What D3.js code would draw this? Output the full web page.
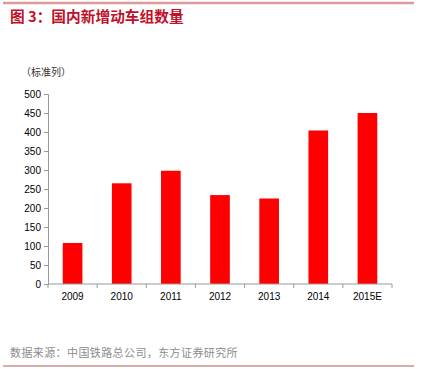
<!DOCTYPE html>
<html><head><meta charset="utf-8">
<script src="https://cdn.jsdelivr.net/npm/d3@7"></script>
<style>body{margin:0;background:#fff}svg{display:block}</style>
</head><body>
<script>
const categories = ["2009","2010","2011","2012","2013","2014","2015E"];
const values = [108, 265, 298, 234, 225, 404, 450];
const yTicks = [0,50,100,150,200,250,300,350,400,450,500];
const titleText = "图 3：国内新增动车组数量";
const unitText = "（标准列）";
const sourceText = "数据来源：中国铁路总公司，东方证券研究所";

const W = 424, H = 369;
const svg = d3.select("body").append("svg").attr("width", W).attr("height", H);
const font = "Arial, 'Liberation Sans', 'Noto Sans CJK SC', sans-serif";

// top & bottom rules
svg.append("line").attr("x1",3).attr("x2",414).attr("y1",3).attr("y2",3)
  .attr("stroke","#dc9a9a").attr("stroke-width",2.5);
svg.append("line").attr("x1",3).attr("x2",414).attr("y1",366).attr("y2",366)
  .attr("stroke","#b45a5a").attr("stroke-width",1.2);

svg.append("text").attr("x",10).attr("y",22).text(titleText)
  .attr("font-family","'Noto Sans CJK SC', sans-serif").attr("font-weight","bold")
  .attr("font-size",14.7).attr("fill","#c0102a");

svg.append("text").attr("x",21).attr("y",76).text(unitText)
  .attr("font-family","'Noto Sans CJK SC', sans-serif").attr("font-size",10).attr("fill","#333");

svg.append("text").attr("x",10).attr("y",357).text(sourceText)
  .attr("font-family","'Noto Sans CJK SC', sans-serif").attr("font-size",11)
  .attr("letter-spacing",0.4).attr("fill","#8c8c8c");

const x0 = 48, x1 = 392, yTop = 94, yBot = 284;
const x = d3.scaleBand().domain(categories).range([x0, x1]).paddingInner(0.6).paddingOuter(0.3);
const y = d3.scaleLinear().domain([0, 500]).range([yBot, yTop]);

svg.append("g").selectAll("rect").data(values).join("rect")
  .attr("x",(d,i)=>x(categories[i])).attr("width",x.bandwidth())
  .attr("y",d=>y(d)).attr("height",d=>yBot-y(d)).attr("fill","#ff0000");

const yAxis = svg.append("g").attr("transform",`translate(${x0},0)`)
  .call(d3.axisLeft(y).tickValues(yTicks).tickSize(4).tickPadding(3));
yAxis.select(".domain").attr("stroke","#999");
yAxis.selectAll(".tick line").attr("stroke","#999");
yAxis.selectAll("text").attr("font-family",font).attr("font-size",10).attr("fill","#000");

// x axis with boundary ticks
const xAxisG = svg.append("g").attr("transform",`translate(0,${yBot})`);
xAxisG.append("line").attr("x1",x0).attr("x2",x1).attr("stroke","#999");
const bounds = d3.range(categories.length + 1).map(i => x0 + i*(x1-x0)/categories.length);
xAxisG.selectAll("line.t").data(bounds).join("line").attr("class","t")
  .attr("x1",d=>d).attr("x2",d=>d).attr("y1",0).attr("y2",4).attr("stroke","#999");
xAxisG.selectAll("text").data(categories).join("text")
  .attr("x",d=>x(d)+x.bandwidth()/2).attr("y",16).attr("text-anchor","middle")
  .attr("font-family",font).attr("font-size",10).attr("fill","#000").text(d=>d);
</script>
</body></html>
